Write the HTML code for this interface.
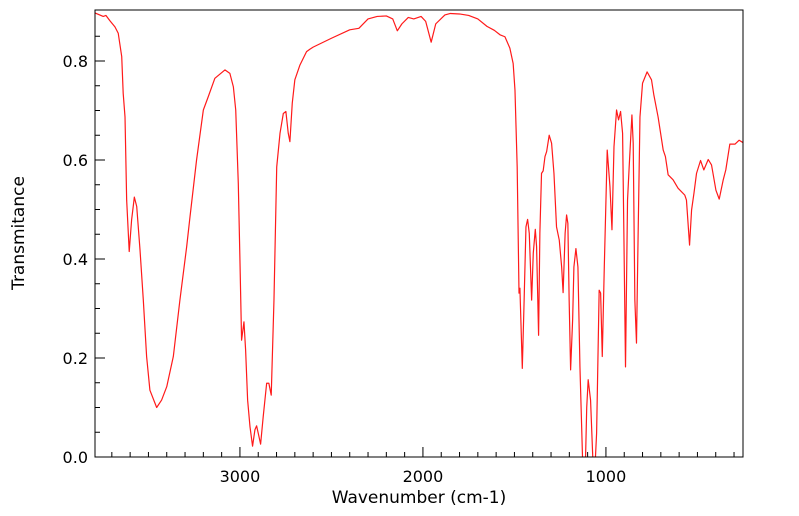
<!DOCTYPE html>
<html><head><meta charset="utf-8"><style>
html,body{margin:0;padding:0;background:#fff;}
svg{display:block;font-family:"DejaVu Sans","Liberation Sans",sans-serif;}
</style></head><body>
<svg id="chart" width="799" height="516" viewBox="0 0 799 516" xmlns="http://www.w3.org/2000/svg">
<defs><clipPath id="clip"><rect x="95" y="10" width="648" height="447"/></clipPath></defs>
<g id="axes"></g>
<path id="line" fill="none" stroke="#ff1a1a" stroke-width="1.2" stroke-linejoin="round" clip-path="url(#clip)"/>
<rect x="95" y="10" width="648" height="447" fill="none" stroke="#000" stroke-width="1"/>
<text x="419" y="503" font-size="17" text-anchor="middle">Wavenumber (cm-1)</text>
<text x="24" y="233" font-size="17" text-anchor="middle" transform="rotate(-90 24 233)">Transmitance</text>
</svg>
<script>
const wavenumbers=[3792,3747,3732,3710,3683,3665,3646,3638,3628,3619,3605,3592,3577,3564,3546,3528,3510,3492,3455,3428,3400,3364,3328,3291,3273,3237,3200,3173,3137,3082,3055,3036,3023,3009,3000,2991,2978,2969,2958,2945,2931,2918,2909,2900,2887,2873,2854,2842,2829,2814,2799,2781,2763,2749,2736,2727,2714,2700,2672,2636,2617,2600,2500,2400,2350,2300,2250,2200,2165,2140,2115,2080,2050,2010,1985,1955,1930,1880,1850,1800,1750,1700,1650,1610,1579,1552,1525,1507,1497,1485,1475,1470,1457,1447,1437,1428,1419,1406,1397,1386,1379,1368,1361,1352,1343,1333,1324,1310,1297,1284,1270,1255,1242,1234,1223,1215,1208,1201,1193,1182,1175,1164,1153,1142,1128,1115,1105,1097,1084,1072,1065,1051,1037,1029,1020,1009,993,978,967,956,942,931,920,909,902,893,882,873,858,851,842,833,824,814,800,775,751,738,715,687,675,660,633,606,569,560,543,532,519,505,483,465,441,423,399,381,359,345,323,295,272,250];
const transmittance=[0.897,0.890,0.892,0.881,0.869,0.856,0.809,0.735,0.687,0.519,0.415,0.479,0.525,0.506,0.418,0.317,0.203,0.135,0.100,0.115,0.142,0.203,0.317,0.425,0.485,0.600,0.701,0.728,0.765,0.782,0.775,0.748,0.701,0.553,0.398,0.236,0.273,0.216,0.115,0.061,0.022,0.055,0.063,0.048,0.026,0.081,0.149,0.149,0.125,0.317,0.586,0.654,0.694,0.698,0.654,0.637,0.715,0.762,0.792,0.819,0.824,0.828,0.846,0.863,0.866,0.885,0.890,0.891,0.885,0.861,0.875,0.888,0.885,0.890,0.880,0.838,0.875,0.893,0.896,0.895,0.892,0.885,0.870,0.862,0.853,0.849,0.826,0.795,0.741,0.586,0.331,0.341,0.179,0.317,0.465,0.480,0.452,0.317,0.412,0.460,0.425,0.246,0.452,0.573,0.578,0.607,0.617,0.650,0.634,0.573,0.465,0.438,0.384,0.332,0.452,0.489,0.472,0.317,0.176,0.277,0.384,0.421,0.384,0.182,0.0,-0.06,0.10,0.156,0.115,0.0,-0.06,0.048,0.337,0.331,0.203,0.384,0.620,0.546,0.459,0.627,0.701,0.681,0.698,0.654,0.452,0.182,0.519,0.586,0.691,0.634,0.317,0.230,0.452,0.687,0.755,0.778,0.762,0.731,0.687,0.620,0.607,0.570,0.560,0.543,0.529,0.519,0.428,0.499,0.533,0.573,0.599,0.580,0.601,0.590,0.539,0.521,0.560,0.580,0.632,0.632,0.640,0.635];
const xTickValues=[3000,2000,1000];
const yTickValues=[0.0,0.2,0.4,0.6,0.8];

const L=95,R=743,T=10,B=457;
const X0=3792,X1=251;
function xs(v){return L+(X0-v)/(X0-X1)*(R-L);}
function ys(v){return B-v*495;}
const NS="http://www.w3.org/2000/svg";
const axes=document.getElementById('axes');
function line(x1,y1,x2,y2,name){
  const l=document.createElementNS(NS,'line');
  l.setAttribute('x1',x1);l.setAttribute('y1',y1);l.setAttribute('x2',x2);l.setAttribute('y2',y2);
  l.setAttribute('stroke','#000');l.setAttribute('stroke-width','1');
  
  
  axes.appendChild(l);
}
function text(x,y,s,anchor,name){
  const t=document.createElementNS(NS,'text');
  t.setAttribute('x',x);t.setAttribute('y',y);t.setAttribute('font-size','16');t.setAttribute('text-anchor',anchor);
  t.textContent=s;
  
  
  axes.appendChild(t);
}
for(let w=3700;w>=300;w-=100){
  const x=xs(w);
  const major=xTickValues.includes(w);
  line(x,B,x,B-(major?10:5),major?'x-major-tick':'x-minor-tick');
}
xTickValues.forEach(v=>text(xs(v),482,String(v),'middle','x-tick-label'));
for(let i=1;i<18;i++){
  const v=i*0.05;
  const y=ys(v);
  const major=i%4===0;
  line(L,y,L+(major?10:5),y,major?'y-major-tick':'y-minor-tick');
}
yTickValues.forEach(v=>text(88,ys(v)+6,v.toFixed(1),'end','y-tick-label'));
let d='';
for(let i=0;i<wavenumbers.length;i++){
  d+=(i?'L':'M')+xs(wavenumbers[i]).toFixed(2)+','+ys(transmittance[i]).toFixed(2);
}
document.getElementById('line').setAttribute('d',d);
</script>
</body></html>
